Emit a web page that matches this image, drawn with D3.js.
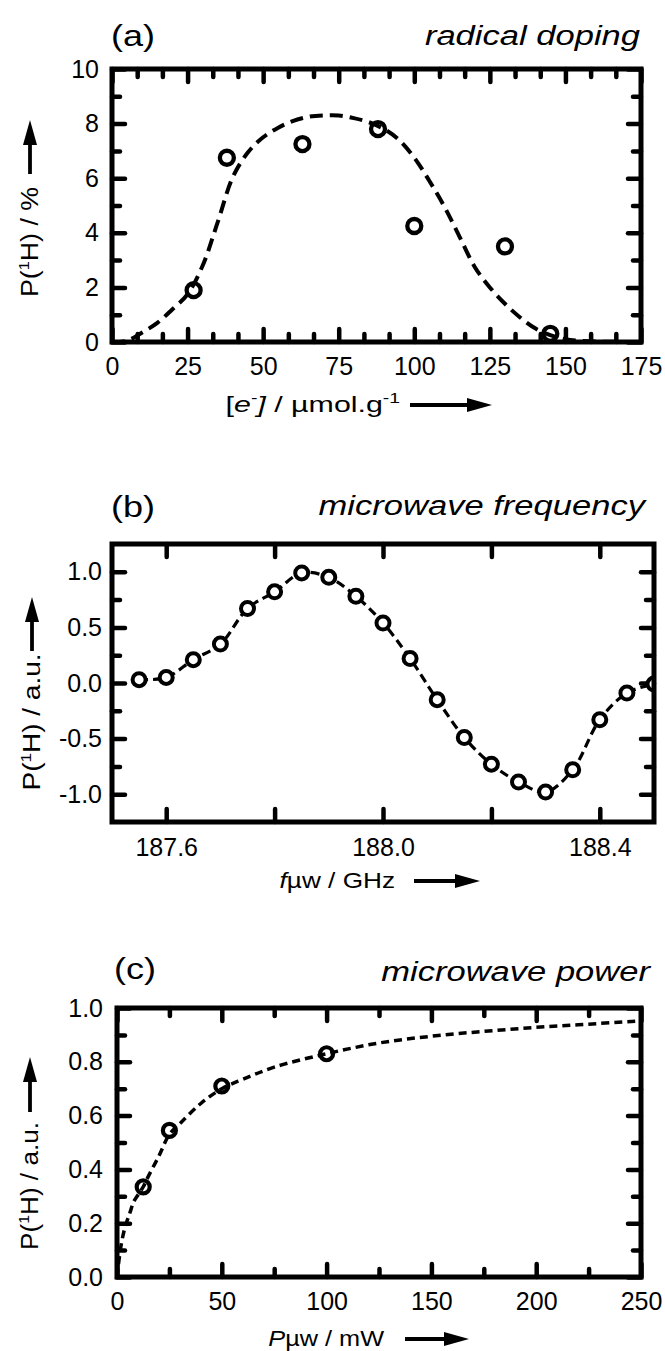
<!DOCTYPE html>
<html><head><meta charset="utf-8">
<script src="https://cdn.jsdelivr.net/npm/d3@7"></script>
<style>html,body{margin:0;padding:0;background:#fff;} svg{display:block;}</style>
</head><body>
<svg id="chart" width="665" height="1351"></svg>
<script>
// ---------- DATA ----------
// (a) radical doping
const dopingX = [27, 38, 63, 88, 100, 130, 145];
const dopingY = [1.9, 6.75, 7.25, 7.8, 4.25, 3.5, 0.3];
const dopingFitX = [0, 5, 10, 15, 20, 25, 30, 35, 40, 45, 50, 55, 60, 65, 70, 75, 80, 85, 90, 95, 100, 105, 110, 115, 120, 125, 130, 135, 140, 145, 150, 160, 175];
const dopingFitY = [0, 0.05, 0.35, 0.7, 1.2, 1.75, 2.8, 4.4, 6.05, 6.95, 7.5, 7.85, 8.1, 8.25, 8.3, 8.3, 8.2, 8.05, 7.8, 7.4, 6.75, 5.9, 4.95, 3.85, 2.75, 2.0, 1.4, 0.9, 0.5, 0.25, 0.1, 0.02, 0];
const dopingXTicks = [0, 25, 50, 75, 100, 125, 150, 175];
const dopingYTicks = [0, 2, 4, 6, 8, 10];

// (b) microwave frequency
const freqX = [187.55, 187.60, 187.65, 187.70, 187.75, 187.80, 187.85, 187.90, 187.95, 188.00,
               188.05, 188.10, 188.15, 188.20, 188.25, 188.30, 188.35, 188.40, 188.45, 188.50];
const freqY = [0.03, 0.05, 0.21, 0.35, 0.67, 0.82, 0.99, 0.95, 0.78, 0.54,
               0.22, -0.15, -0.49, -0.73, -0.89, -0.98, -0.78, -0.33, -0.09, -0.01];
const freqXTicks = [187.6, 188.0, 188.4];
const freqYTicks = [-1.0, -0.5, 0.0, 0.5, 1.0];

// (c) microwave power
const powerX = [12.5, 25, 50, 100];
const powerY = [0.335, 0.545, 0.71, 0.83];
const powerFitX = [0, 2, 4, 6, 8, 10, 12.5, 15, 20, 25, 30, 40, 50, 60, 75, 100, 125, 150, 175, 200, 225, 250];
const powerFitY = [0, 0.12, 0.19, 0.235, 0.28, 0.305, 0.335, 0.375, 0.45, 0.53, 0.57, 0.645, 0.70, 0.735, 0.78, 0.83, 0.87, 0.895, 0.913, 0.928, 0.94, 0.952];
const powerXTicks = [0, 50, 100, 150, 200, 250];
const powerYTicks = [0.0, 0.2, 0.4, 0.6, 0.8, 1.0];

// ---------- DRAWING ----------
const svg = d3.select("#chart");
const FONT = "'Liberation Sans', Arial, Helvetica, sans-serif";

function arrow(parent, x1, y1, x2, y2) {
  const dx = x2 - x1, dy = y2 - y1, L = Math.hypot(dx, dy);
  const ux = dx / L, uy = dy / L, hl = 25, hw = 7;
  const bx = x2 - ux * hl, by = y2 - uy * hl;
  parent.append("line").attr("x1", x1).attr("y1", y1).attr("x2", bx + ux * 2).attr("y2", by + uy * 2)
    .attr("stroke", "#000").attr("stroke-width", 3.8);
  parent.append("path")
    .attr("d", `M${x2},${y2}L${bx - uy * hw},${by + ux * hw}L${bx + uy * hw},${by - ux * hw}Z`)
    .attr("fill", "#000");
}

function stext(parent, x, y, sx, anchor, fs) {
  return parent.append("g").attr("transform", `translate(${x},${y}) scale(${sx},1)`)
    .append("text").attr("text-anchor", anchor).attr("font-family", FONT)
    .attr("font-size", fs).attr("fill", "#000");
}

function panel(o) {
  const g = svg.append("g");
  const x = d3.scaleLinear().domain(o.xDomain).range([o.left, o.right]);
  const y = d3.scaleLinear().domain(o.yDomain).range([o.bottom, o.top]);
  const clipId = "clip-" + o.id;
  svg.append("clipPath").attr("id", clipId).append("rect")
    .attr("x", o.left).attr("y", o.top).attr("width", o.right - o.left).attr("height", o.bottom - o.top);

  const styleAxis = sel => {
    sel.select(".domain").remove();
    sel.selectAll(".tick line").attr("stroke", "#000").attr("stroke-width", 4.5).attr("stroke-linecap", "round");
    sel.selectAll(".tick text").attr("font-family", FONT).attr("font-size", 25).attr("fill", "#000");
  };
  const blank = () => "";
  const labelFmt = d => (o.xLabels.some(v => Math.abs(v - d) < 1e-9) ? o.xFmt(d) : "");

  // major ticks, all four sides
  g.append("g").attr("transform", `translate(0,${o.bottom})`)
    .call(d3.axisBottom(x).tickValues(o.xMajor).tickSize(-13).tickPadding(o.xPad).tickFormat(labelFmt)).call(styleAxis);
  g.append("g").attr("transform", `translate(0,${o.top})`)
    .call(d3.axisTop(x).tickValues(o.xMajor).tickSize(-13).tickFormat(blank)).call(styleAxis);
  g.append("g").attr("transform", `translate(${o.left},0)`)
    .call(d3.axisLeft(y).tickValues(o.yLabels).tickSize(-13).tickPadding(o.yPad).tickFormat(o.yFmt)).call(styleAxis);
  g.append("g").attr("transform", `translate(${o.right},0)`)
    .call(d3.axisRight(y).tickValues(o.yLabels).tickSize(-13).tickFormat(blank)).call(styleAxis);
  // minor ticks
  if (o.xMinor.length) {
    g.append("g").attr("transform", `translate(0,${o.bottom})`)
      .call(d3.axisBottom(x).tickValues(o.xMinor).tickSize(-8).tickFormat(blank)).call(styleAxis);
    g.append("g").attr("transform", `translate(0,${o.top})`)
      .call(d3.axisTop(x).tickValues(o.xMinor).tickSize(-8).tickFormat(blank)).call(styleAxis);
  }
  g.append("g").attr("transform", `translate(${o.left},0)`)
    .call(d3.axisLeft(y).tickValues(o.yMinor).tickSize(-8).tickFormat(blank)).call(styleAxis);
  g.append("g").attr("transform", `translate(${o.right},0)`)
    .call(d3.axisRight(y).tickValues(o.yMinor).tickSize(-8).tickFormat(blank)).call(styleAxis);

  // fit / connecting line
  const line = d3.line().x(d => x(d[0])).y(d => y(d[1])).curve(d3.curveCatmullRom.alpha(0.5));
  g.append("path").datum(d3.zip(o.fitX, o.fitY)).attr("d", line)
    .attr("fill", "none").attr("stroke", "#000").attr("stroke-width", o.lineW)
    .attr("stroke-dasharray", o.dash).attr("clip-path", `url(#${clipId})`);

  // data points
  g.append("g").attr("clip-path", `url(#${clipId})`).selectAll("circle")
    .data(d3.zip(o.px, o.py)).join("circle")
    .attr("cx", d => x(d[0])).attr("cy", d => y(d[1])).attr("r", o.r)
    .attr("fill", o.fill).attr("stroke", "#000").attr("stroke-width", o.circW);

  // frame
  g.append("rect").attr("x", o.left).attr("y", o.top)
    .attr("width", o.right - o.left).attr("height", o.bottom - o.top)
    .attr("fill", "none").attr("stroke", "#000").attr("stroke-width", 5);
  return g;
}

const fmt0 = d => String(d);
const fmt1 = d => d.toFixed(1);

// ---- panel (a)
panel({
  id: "a", left: 112, right: 641, top: 69, bottom: 342,
  xDomain: [0, 175], yDomain: [0, 10],
  xMajor: dopingXTicks, xLabels: dopingXTicks,
  xMinor: d3.range(0, 175.01, 25 / 3).filter((v, i) => i % 3 !== 0),
  yLabels: dopingYTicks, yMinor: [1, 3, 5, 7, 9],
  xFmt: fmt0, yFmt: fmt0, xPad: 15, yPad: 13,
  fitX: dopingFitX, fitY: dopingFitY, px: dopingX, py: dopingY,
  lineW: 4, dash: "13,7", r: 7, circW: 4.3, fill: "none"
});
// ---- panel (b)
panel({
  id: "b", left: 112, right: 654, top: 544, bottom: 822,
  xDomain: [187.5, 188.5], yDomain: [-1.25, 1.25],
  xMajor: [187.6, 187.8, 188.0, 188.2, 188.4], xLabels: freqXTicks, xMinor: [],
  yLabels: freqYTicks, yMinor: [-0.75, -0.25, 0.25, 0.75],
  xFmt: fmt1, yFmt: fmt1, xPad: 16, yPad: 10,
  fitX: freqX, fitY: freqY, px: freqX, py: freqY,
  lineW: 3.2, dash: "9,5", r: 6.5, circW: 4, fill: "#fff"
});
// ---- panel (c)
panel({
  id: "c", left: 117, right: 641, top: 1008, bottom: 1277,
  xDomain: [0, 250], yDomain: [0, 1],
  xMajor: powerXTicks, xLabels: powerXTicks, xMinor: [25, 75, 125, 175, 225],
  yLabels: powerYTicks, yMinor: [0.1, 0.3, 0.5, 0.7, 0.9],
  xFmt: fmt0, yFmt: fmt1, xPad: 15, yPad: 14,
  fitX: powerFitX, fitY: powerFitY, px: powerX, py: powerY,
  lineW: 3.5, dash: "8,5", r: 6.5, circW: 4.2, fill: "none"
});

// ---- panel labels & titles
stext(svg, 111, 46, 1.2, "start", 30).text("(a)");
stext(svg, 640, 45, 1.28, "end", 27).attr("font-style", "italic").text("radical doping");
stext(svg, 111, 517, 1.2, "start", 30).text("(b)");
stext(svg, 645, 515, 1.28, "end", 27).attr("font-style", "italic").text("microwave frequency");
stext(svg, 114, 979, 1.2, "start", 30).text("(c)");
stext(svg, 650, 981, 1.28, "end", 27).attr("font-style", "italic").text("microwave power");

// ---- x axis titles
let t = stext(svg, 400, 412, 1.38, "end", 22);
t.append("tspan").text("[");
t.append("tspan").attr("font-style", "italic").text("e");
t.append("tspan").attr("font-size", 14).attr("dy", -9).text("-");
t.append("tspan").attr("dy", 9).attr("font-style", "italic").text("]");
t.append("tspan").text(" / µmol.g");
t.append("tspan").attr("font-size", 14).attr("dy", -9).text("-1");
arrow(svg, 410, 405, 492, 405);

t = stext(svg, 395, 888, 1.19, "end", 22);
t.append("tspan").attr("font-style", "italic").text("f");
t.append("tspan").text("µw / GHz");
arrow(svg, 414, 881, 480, 881);

t = stext(svg, 384, 1346, 1.15, "end", 22);
t.append("tspan").attr("font-style", "italic").text("P");
t.append("tspan").text("µw / mW");
arrow(svg, 405, 1339, 469, 1339);

// ---- y axis titles (rotated) with up arrows
function ytitle(cx, cy, len, label) {
  const g = svg.append("g").attr("transform", `translate(${cx + 8},${cy}) rotate(-90)`);
  const tx = g.append("text").attr("text-anchor", "middle").attr("font-family", FONT)
    .attr("font-size", 23).attr("fill", "#000")
    .attr("textLength", len).attr("lengthAdjust", "spacingAndGlyphs");
  tx.append("tspan").text("P(");
  tx.append("tspan").attr("font-size", 14).attr("dy", -9).text("1");
  tx.append("tspan").attr("dy", 9).text("H) / " + label);
}
ytitle(30, 242, 110, "%");
arrow(svg, 30, 174, 30, 120);
ytitle(32, 722, 137, "a.u.");
arrow(svg, 32, 651, 32, 597);
ytitle(30, 1186, 128, "a.u.");
arrow(svg, 30, 1112, 30, 1057);
</script>
</body></html>
